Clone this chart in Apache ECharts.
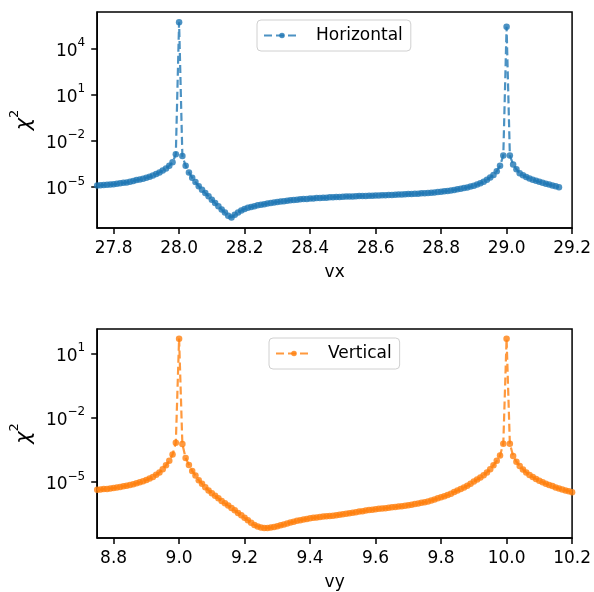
<!DOCTYPE html>
<html>
<head>
<meta charset="utf-8">
<script src="https://cdn.jsdelivr.net/npm/echarts@6/dist/echarts.min.js"></script>
<style>
html,body{margin:0;padding:0;background:#fff;}
#chart{width:594px;height:592px;}
</style>
</head>
<body>
<div id="chart"></div>
<script>
// ---------- data ----------
const vx = [
27.75,27.76,27.77,27.78,27.79,27.80,27.81,27.82,27.83,27.84,27.85,27.86,27.87,27.88,27.89,27.90,27.91,27.92,27.93,27.94,
27.95,27.96,27.97,27.98,27.99,28.00,28.01,28.02,28.03,28.04,28.05,28.06,28.07,28.08,28.09,28.10,28.11,28.12,28.13,28.14,
28.15,28.16,28.17,28.18,28.19,28.20,28.21,28.22,28.23,28.24,28.25,28.26,28.27,28.28,28.29,28.30,28.31,28.32,28.33,28.34,
28.35,28.36,28.37,28.38,28.39,28.40,28.41,28.42,28.43,28.44,28.45,28.46,28.47,28.48,28.49,28.50,28.51,28.52,28.53,28.54,
28.55,28.56,28.57,28.58,28.59,28.60,28.61,28.62,28.63,28.64,28.65,28.66,28.67,28.68,28.69,28.70,28.71,28.72,28.73,28.74,
28.75,28.76,28.77,28.78,28.79,28.80,28.81,28.82,28.83,28.84,28.85,28.86,28.87,28.88,28.89,28.90,28.91,28.92,28.93,28.94,
28.95,28.96,28.97,28.98,28.99,29.00,29.01,29.02,29.03,29.04,29.05,29.06,29.07,29.08,29.09,29.10,29.11,29.12,29.13,29.14,
29.15,29.16
];
const horizontalChi2 = [
1.26e-5,1.29e-5,1.35e-5,1.38e-5,1.45e-5,1.51e-5,1.62e-5,1.74e-5,1.86e-5,2.00e-5,2.19e-5,2.45e-5,2.82e-5,3.09e-5,3.47e-5,3.98e-5,4.57e-5,5.50e-5,6.92e-5,8.91e-5,
1.17e-4,1.62e-4,2.40e-4,3.98e-4,1.32e-3,4.90e5,1.02e-3,2.40e-4,8.91e-5,3.98e-5,2.09e-5,1.12e-5,6.76e-6,4.07e-6,2.51e-6,1.51e-6,9.33e-7,5.62e-7,3.47e-7,2.19e-7,
1.35e-7,1.05e-7,1.58e-7,2.24e-7,3.02e-7,3.80e-7,4.47e-7,5.13e-7,5.75e-7,6.46e-7,7.08e-7,7.76e-7,8.51e-7,9.12e-7,1.00e-6,1.07e-6,1.15e-6,1.20e-6,1.29e-6,1.38e-6,
1.45e-6,1.51e-6,1.58e-6,1.66e-6,1.70e-6,1.78e-6,1.82e-6,1.91e-6,1.95e-6,2.00e-6,2.04e-6,2.14e-6,2.19e-6,2.24e-6,2.29e-6,2.34e-6,2.40e-6,2.40e-6,2.45e-6,2.51e-6,
2.57e-6,2.57e-6,2.63e-6,2.69e-6,2.75e-6,2.82e-6,2.82e-6,2.88e-6,2.95e-6,3.02e-6,3.09e-6,3.16e-6,3.24e-6,3.31e-6,3.39e-6,3.47e-6,3.55e-6,3.63e-6,3.72e-6,3.89e-6,
3.98e-6,4.17e-6,4.27e-6,4.47e-6,4.68e-6,5.01e-6,5.25e-6,5.62e-6,6.03e-6,6.46e-6,7.08e-6,7.76e-6,8.51e-6,9.33e-6,1.07e-5,1.23e-5,1.45e-5,1.78e-5,2.24e-5,3.02e-5,
4.17e-5,6.03e-5,1.05e-4,2.40e-4,1.12e-3,2.51e5,1.12e-3,2.95e-4,1.41e-4,7.94e-5,5.75e-5,4.47e-5,3.63e-5,3.02e-5,2.51e-5,2.19e-5,1.91e-5,1.66e-5,1.45e-5,1.26e-5,
1.12e-5,9.77e-6
];
const vy = [
8.75,8.76,8.77,8.78,8.79,8.80,8.81,8.82,8.83,8.84,8.85,8.86,8.87,8.88,8.89,8.90,8.91,8.92,8.93,8.94,
8.95,8.96,8.97,8.98,8.99,9.00,9.01,9.02,9.03,9.04,9.05,9.06,9.07,9.08,9.09,9.10,9.11,9.12,9.13,9.14,
9.15,9.16,9.17,9.18,9.19,9.20,9.21,9.22,9.23,9.24,9.25,9.26,9.27,9.28,9.29,9.30,9.31,9.32,9.33,9.34,
9.35,9.36,9.37,9.38,9.39,9.40,9.41,9.42,9.43,9.44,9.45,9.46,9.47,9.48,9.49,9.50,9.51,9.52,9.53,9.54,
9.55,9.56,9.57,9.58,9.59,9.60,9.61,9.62,9.63,9.64,9.65,9.66,9.67,9.68,9.69,9.70,9.71,9.72,9.73,9.74,
9.75,9.76,9.77,9.78,9.79,9.80,9.81,9.82,9.83,9.84,9.85,9.86,9.87,9.88,9.89,9.90,9.91,9.92,9.93,9.94,
9.95,9.96,9.97,9.98,9.99,10.00,10.01,10.02,10.03,10.04,10.05,10.06,10.07,10.08,10.09,10.10,10.11,10.12,10.13,10.14,
10.15,10.16,10.17,10.18,10.19,10.20
];
const verticalChi2 = [
4.37e-6,4.47e-6,4.68e-6,4.79e-6,5.01e-6,5.25e-6,5.50e-6,5.89e-6,6.31e-6,6.76e-6,7.24e-6,7.94e-6,8.71e-6,9.77e-6,1.10e-5,1.26e-5,1.48e-5,1.74e-5,2.19e-5,2.82e-5,
3.98e-5,6.03e-5,9.77e-5,1.91e-4,6.76e-4,4.90e1,5.89e-4,1.32e-4,6.31e-5,3.31e-5,2.00e-5,1.20e-5,8.32e-6,5.75e-6,4.07e-6,3.02e-6,2.29e-6,1.74e-6,1.32e-6,1.02e-6,
7.94e-7,6.17e-7,4.79e-7,3.63e-7,2.82e-7,2.14e-7,1.66e-7,1.26e-7,1.00e-7,8.51e-8,7.59e-8,7.24e-8,7.24e-8,7.59e-8,7.94e-8,8.71e-8,9.55e-8,1.05e-7,1.17e-7,1.29e-7,
1.41e-7,1.55e-7,1.66e-7,1.78e-7,1.91e-7,2.04e-7,2.14e-7,2.24e-7,2.34e-7,2.45e-7,2.51e-7,2.63e-7,2.69e-7,2.82e-7,2.95e-7,3.16e-7,3.31e-7,3.47e-7,3.72e-7,3.89e-7,
4.17e-7,4.37e-7,4.68e-7,4.90e-7,5.13e-7,5.37e-7,5.62e-7,5.75e-7,6.03e-7,6.31e-7,6.61e-7,6.92e-7,7.24e-7,7.41e-7,7.76e-7,8.32e-7,8.71e-7,9.33e-7,1.00e-6,1.07e-6,
1.15e-6,1.23e-6,1.38e-6,1.55e-6,1.74e-6,1.95e-6,2.19e-6,2.51e-6,2.88e-6,3.39e-6,3.98e-6,4.68e-6,5.62e-6,6.76e-6,8.32e-6,1.05e-5,1.32e-5,1.62e-5,2.09e-5,2.82e-5,
3.98e-5,6.03e-5,9.77e-5,1.74e-4,6.17e-4,4.90e1,6.17e-4,1.66e-4,8.91e-5,5.62e-5,3.89e-5,2.82e-5,2.14e-5,1.70e-5,1.38e-5,1.15e-5,9.77e-6,8.32e-6,7.24e-6,6.46e-6,
5.62e-6,5.01e-6,4.47e-6,4.07e-6,3.72e-6,3.31e-6
];
const vxTicks = [27.8, 28.0, 28.2, 28.4, 28.6, 28.8, 29.0, 29.2];
const vyTicks = [8.8, 9.0, 9.2, 9.4, 9.6, 9.8, 10.0, 10.2];
const chi2TicksTop = [1e-5, 1e-2, 1e1, 1e4];
const chi2TicksBottom = [1e-5, 1e-2, 1e1];
const seriesNames = ['Horizontal', 'Vertical'];

// ---------- chart ----------
const FONT = 'DejaVu Sans';
const BLUE = 'rgba(31,119,180,0.8)';
const ORANGE = 'rgba(255,127,14,0.8)';

function logLabel(v) {
  const e = Math.round(Math.log10(v));
  const s = e < 0 ? '\u2212' + (-e) : String(e);
  return '{b|10}{s|' + s + '}';
}
const logRich = {
  b: { fontSize: 17, fontFamily: FONT, color: '#000', padding: [6, 0, 0, 0] },
  s: { fontSize: 12, fontFamily: FONT, color: '#000', verticalAlign: 'top' }
};

function xAxisCfg(idx, name, min, max, ticks) {
  return {
    type: 'value', gridIndex: idx, min: min, max: max,
    name: name, nameLocation: 'middle', nameGap: 36,
    nameTextStyle: { fontSize: 17, fontFamily: FONT, color: '#000' },
    axisLine: { show: true, onZero: false, lineStyle: { color: '#000', width: 1.5 } },
    axisTick: { show: true, inside: false, length: 6, lineStyle: { color: '#000', width: 1.5 }, customValues: ticks },
    axisLabel: { margin: 12, fontSize: 17, fontFamily: FONT, color: '#000', customValues: ticks,
      formatter: v => v.toFixed(1) },
    splitLine: { show: false }
  };
}
function yAxisCfg(idx, min, max, ticks) {
  return {
    type: 'log', logBase: 10, gridIndex: idx, min: min, max: max,
    name: '{c|\u03c7}{s|2}', nameLocation: 'middle', nameGap: 54, nameRotate: 90,
    nameTextStyle: { rich: {
      c: { fontSize: 21, fontFamily: FONT, fontStyle: 'italic', color: '#000', padding: [6, 0, 0, 0] },
      s: { fontSize: 13, fontFamily: FONT, color: '#000', verticalAlign: 'top' }
    } },
    axisLine: { show: true, lineStyle: { color: '#000', width: 1.5 } },
    axisTick: { show: true, inside: false, length: 6, lineStyle: { color: '#000', width: 1.5 }, customValues: ticks },
    minorTick: { show: false },
    axisLabel: { margin: 12, customValues: ticks, formatter: logLabel, rich: logRich },
    splitLine: { show: false }
  };
}
function seriesCfg(name, idx, xs, ys, color) {
  return {
    name: name, type: 'line', xAxisIndex: idx, yAxisIndex: idx,
    data: xs.map((x, i) => [x, ys[i]]),
    symbol: 'circle', symbolSize: 6.5, showSymbol: true, showAllSymbol: true,
    lineStyle: { color: color, width: 2.2, type: [8, 4] },
    itemStyle: { color: color, borderWidth: 0 },
    emphasis: { disabled: true },
    silent: true, animation: false
  };
}
function legendCfg(name, left, top) {
  return {
    data: [name], left: left, top: top, orient: 'horizontal',
    itemWidth: 36, itemHeight: 7,
    padding: [7, 8, 7, 6],
    backgroundColor: 'rgba(255,255,255,0.8)',
    borderColor: '#d0d0d0', borderWidth: 1, borderRadius: 4,
    textStyle: { fontSize: 17, fontFamily: FONT, color: '#000', padding: [0, 0, 0, 11] },
    selectedMode: false
  };
}

const chart = echarts.init(document.getElementById('chart'), null, { renderer: 'canvas' });
chart.setOption({
  animation: false,
  backgroundColor: '#fff',
  textStyle: { fontFamily: FONT },
  grid: [
    { left: 95, top: 12, width: 480, height: 216, show: true, borderColor: '#000', borderWidth: 1.5, backgroundColor: 'transparent' },
    { left: 96, top: 329, width: 479, height: 211, show: true, borderColor: '#000', borderWidth: 1.5, backgroundColor: 'transparent' }
  ],
  xAxis: [
    xAxisCfg(0, 'vx', 27.75, 29.2, vxTicks),
    xAxisCfg(1, 'vy', 8.75, 10.2, vyTicks)
  ],
  yAxis: [
    yAxisCfg(0, 2.19e-8, 2.29e6, chi2TicksTop),
    yAxisCfg(1, 2.45e-8, 138, chi2TicksBottom)
  ],
  legend: [
    legendCfg(seriesNames[0], 257, 20),
    legendCfg(seriesNames[1], 269, 338)
  ],
  series: [
    seriesCfg(seriesNames[0], 0, vx, horizontalChi2, BLUE),
    seriesCfg(seriesNames[1], 1, vy, verticalChi2, ORANGE)
  ]
});
</script>
</body>
</html>
